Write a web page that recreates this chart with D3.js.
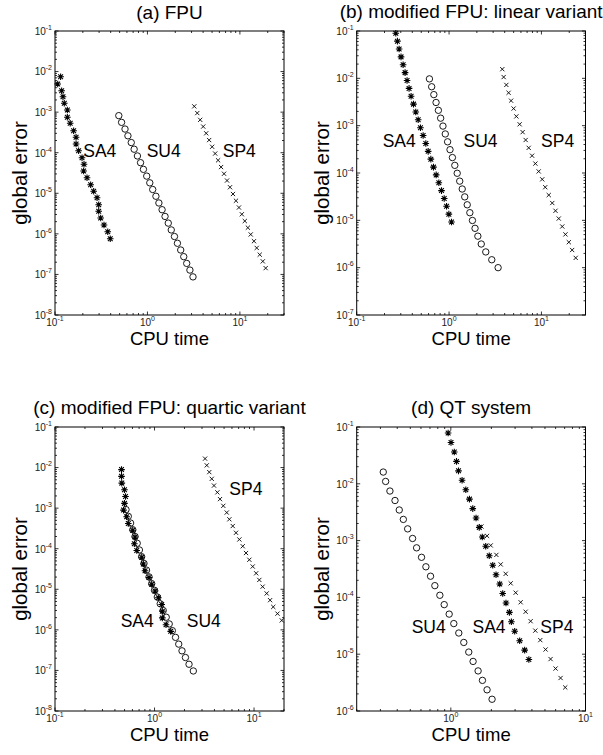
<!DOCTYPE html>
<html><head><meta charset="utf-8">
<script src="https://cdn.jsdelivr.net/npm/d3@7"></script>
<style>
body{margin:0;background:#fff}
svg{display:block}
text{font-family:"Liberation Sans",Arial,Helvetica,sans-serif;fill:#000}
</style>
</head><body>
<svg id="chart" width="603" height="755"></svg>
<script>
// ---------------- data (CPU time, global error) ----------------
// (a) FPU
const aSA4_t = [0.115,0.107,0.118,0.122,0.126,0.136,0.136,0.146,0.159,0.169,0.169,0.180,0.196,0.206,0.204,0.222,0.243,0.262,0.285,0.297,0.297,0.312,0.339,0.372,0.396];
const aSA4_e = [7.48e-3,4.94e-3,3.38e-3,2.40e-3,1.65e-3,1.13e-3,7.46e-4,5.31e-4,3.49e-4,2.40e-4,1.64e-4,1.12e-4,7.53e-5,5.18e-5,3.54e-5,2.42e-5,1.63e-5,1.12e-5,7.78e-6,5.23e-6,3.60e-6,2.46e-6,1.65e-6,1.13e-6,7.60e-7];
const aSU4_t = [0.49,0.525,0.572,0.615,0.668,0.718,0.779,0.842,0.905,0.982,1.06,1.14,1.235,1.33,1.44,1.55,1.68,1.81,1.96,2.11,2.29,2.47,2.66,2.88,3.11];
const aSU4_e = [8.2e-4,5.6e-4,3.83e-4,2.61e-4,1.78e-4,1.22e-4,8.32e-5,5.68e-5,3.89e-5,2.65e-5,1.81e-5,1.24e-5,8.45e-6,5.77e-6,3.94e-6,2.69e-6,1.84e-6,1.25e-6,8.6e-7,5.86e-7,4.0e-7,2.74e-7,1.87e-7,1.28e-7,8.7e-8];
const aSP4_t = [3.21,3.46,3.72,4.01,4.32,4.65,5.01,5.40,5.81,6.26,6.74,7.26,7.82,8.42,9.07,9.77,10.5,11.3,12.2,13.1,14.2,15.2,16.4,17.7,19.0];
const aSP4_e = [1.39e-3,9.48e-4,6.46e-4,4.41e-4,3.01e-4,2.05e-4,1.40e-4,9.54e-5,6.5e-5,4.43e-5,3.03e-5,2.06e-5,1.41e-5,9.6e-6,6.55e-6,4.46e-6,3.04e-6,2.07e-6,1.42e-6,9.67e-7,6.6e-7,4.5e-7,3.07e-7,2.1e-7,1.43e-7];
// (b) modified FPU: linear variant
const bSA4_t = [0.265,0.276,0.288,0.302,0.318,0.334,0.351,0.369,0.388,0.412,0.436,0.463,0.490,0.524,0.560,0.594,0.635,0.678,0.725,0.775,0.828,0.886,0.939,0.995,1.063];
const bSA4_e = [0.0894,0.0610,0.0416,0.0284,0.0193,0.0132,8.99e-3,6.13e-3,4.18e-3,2.85e-3,1.95e-3,1.33e-3,9.06e-4,6.18e-4,4.21e-4,2.87e-4,1.96e-4,1.33e-4,9.12e-5,6.22e-5,4.25e-5,2.90e-5,1.98e-5,1.35e-5,9.2e-6];
const bSU4_t = [0.613,0.648,0.684,0.723,0.766,0.811,0.859,0.910,0.964,1.024,1.087,1.154,1.225,1.304,1.388,1.478,1.573,1.679,1.791,1.911,2.050,2.231,2.497,2.900,3.396];
const bSU4_e = [9.74e-3,6.64e-3,4.53e-3,3.09e-3,2.11e-3,1.44e-3,9.80e-4,6.68e-4,4.56e-4,3.11e-4,2.12e-4,1.45e-4,9.87e-5,6.73e-5,4.59e-5,3.13e-5,2.13e-5,1.45e-5,9.93e-6,6.78e-6,4.63e-6,3.16e-6,2.15e-6,1.47e-6,1.00e-6];
const bSP4_t = [3.77,3.90,4.17,4.41,4.69,5.00,5.35,5.81,6.26,6.75,7.28,7.92,8.60,9.34,10.2,11.0,12.0,13.1,14.2,15.4,16.8,18.2,19.8,21.5,23.5];
const bSP4_e = [0.0156,0.01064,7.26e-3,4.95e-3,3.37e-3,2.30e-3,1.57e-3,1.07e-3,7.30e-4,4.98e-4,3.40e-4,2.32e-4,1.58e-4,1.08e-4,7.35e-5,5.01e-5,3.42e-5,2.32e-5,1.59e-5,1.09e-5,7.41e-6,5.05e-6,3.45e-6,2.36e-6,1.61e-6];
// (c) modified FPU: quartic variant
const cSA4_t = [0.466,0.466,0.469,0.499,0.511,0.499,0.488,0.525,0.545,0.604,0.637,0.627,0.663,0.744,0.772,0.803,0.881,0.937,1.012,1.092,1.181,1.198,1.198,1.305,1.455];
const cSA4_e = [8.91e-3,6.08e-3,4.14e-3,2.83e-3,1.93e-3,1.31e-3,8.96e-4,6.11e-4,4.17e-4,2.84e-4,1.94e-4,1.32e-4,9.03e-5,6.16e-5,4.20e-5,2.86e-5,1.95e-5,1.33e-5,9.09e-6,6.20e-6,4.23e-6,2.89e-6,1.97e-6,1.34e-6,9.2e-7];
const cSU4_t = [0.517,0.545,0.575,0.605,0.637,0.670,0.705,0.742,0.784,0.831,0.881,0.937,1.000,1.067,1.141,1.223,1.311,1.405,1.510,1.626,1.751,1.889,2.045,2.222,2.454];
const cSU4_e = [9.2e-4,6.28e-4,4.29e-4,2.93e-4,2.0e-4,1.36e-4,9.31e-5,6.36e-5,4.34e-5,2.96e-5,2.02e-5,1.38e-5,9.43e-6,6.44e-6,4.40e-6,3.0e-6,2.05e-6,1.40e-6,9.57e-7,6.53e-7,4.45e-7,3.04e-7,2.08e-7,1.42e-7,9.7e-8];
const cSP4_t = [3.22,3.35,3.55,3.76,3.96,4.28,4.55,4.91,5.32,5.65,6.11,6.59,7.12,7.70,8.31,8.97,9.70,10.5,11.3,12.2,13.4,14.5,15.6,17.2,19.0];
const cSP4_e = [0.0166,0.01134,7.73e-3,5.28e-3,3.60e-3,2.45e-3,1.67e-3,1.14e-3,7.78e-4,5.31e-4,3.62e-4,2.47e-4,1.69e-4,1.15e-4,7.83e-5,5.34e-5,3.64e-5,2.48e-5,1.70e-5,1.16e-5,7.9e-6,5.39e-6,3.68e-6,2.51e-6,1.71e-6];
// (d) QT system
const dSU4_t = [0.315,0.328,0.353,0.385,0.414,0.444,0.478,0.520,0.557,0.606,0.653,0.707,0.761,0.829,0.893,0.972,1.052,1.146,1.248,1.359,1.463,1.594,1.717,1.858,2.024];
const dSU4_e = [0.0161,0.0110,7.46e-3,5.08e-3,3.46e-3,2.36e-3,1.61e-3,1.09e-3,7.46e-4,5.08e-4,3.46e-4,2.36e-4,1.61e-4,1.09e-4,7.46e-5,5.08e-5,3.46e-5,2.36e-5,1.61e-5,1.09e-5,7.46e-6,5.08e-6,3.46e-6,2.36e-6,1.61e-6];
const dSA4_t = [0.955,1.003,1.061,1.102,1.140,1.212,1.292,1.375,1.455,1.539,1.626,1.712,1.816,1.929,2.047,2.166,2.307,2.428,2.568,2.722,2.817,2.980,3.245,3.533,3.796];
const dSA4_e = [0.0783,0.0534,0.0364,0.0248,0.0169,0.01155,7.88e-3,5.37e-3,3.66e-3,2.50e-3,1.71e-3,1.16e-3,7.93e-4,5.41e-4,3.69e-4,2.51e-4,1.72e-4,1.17e-4,7.98e-5,5.45e-5,3.72e-5,2.54e-5,1.73e-5,1.18e-5,8.05e-6];
const dSP4_t = [1.687,1.858,1.978,2.179,2.346,2.555,2.783,3.030,3.300,3.594,3.914,4.239,4.616,5.054,5.504,5.995,6.529,7.071];
const dSP4_e = [1.77e-3,1.21e-3,8.22e-4,5.60e-4,3.81e-4,2.60e-4,1.77e-4,1.21e-4,8.21e-5,5.59e-5,3.81e-5,2.60e-5,1.77e-5,1.21e-5,8.21e-6,5.59e-6,3.81e-6,2.60e-6];

// tick label exponents
const xExpABC = [-1, 0, 1];
const xExpD = [0, 1];
const yExpA = [-1,-2,-3,-4,-5,-6,-7,-8];
const yExpB = [-1,-2,-3,-4,-5,-6,-7];
const yExpC = [-1,-2,-3,-4,-5,-6,-7,-8];
const yExpD = [-1,-2,-3,-4,-5,-6];

const titles = ["(a) FPU","(b) modified FPU: linear variant","(c) modified FPU: quartic variant","(d) QT system"];
const xTitle = "CPU time", yTitle = "global error";

// ---------------- layout ----------------
const panels = [
 {title:titles[0], L:55, T:31, R:284, B:315, xd:[0.1,30], yd:[1e-8,1e-1], xe:xExpABC, ye:yExpA, titleY:18.5,
  series:[["star",aSA4_t,aSA4_e],["circ",aSU4_t,aSU4_e],["x",aSP4_t,aSP4_e]],
  labels:[["SA4",0.202,8.0e-5],["SU4",0.98,8.0e-5],["SP4",6.52,8.0e-5]]},
 {title:titles[1], L:356.7, T:31, R:585.5, B:315, xd:[0.1,30], yd:[1e-7,1e-1], xe:xExpABC, ye:yExpB, titleY:18,
  series:[["star",bSA4_t,bSA4_e],["circ",bSU4_t,bSU4_e],["x",bSP4_t,bSP4_e]],
  labels:[["SA4",0.191,3.6e-4],["SU4",1.435,3.6e-4],["SP4",9.92,3.6e-4]]},
 {title:titles[2], L:55, T:427, R:284, B:711, xd:[0.1,20], yd:[1e-8,1e-1], xe:xExpABC, ye:yExpC, titleY:414,
  series:[["circ",cSU4_t,cSU4_e],["star",cSA4_t,cSA4_e],["x",cSP4_t,cSP4_e]],
  labels:[["SP4",5.65,2.11e-3],["SA4",0.457,1.16e-6],["SU4",2.107,1.16e-6]]},
 {title:titles[3], L:356.7, T:427, R:585.5, B:711, xd:[0.2,10], yd:[1e-6,1e-1], xe:xExpD, ye:yExpD, titleY:414,
  series:[["circ",dSU4_t,dSU4_e],["star",dSA4_t,dSA4_e],["x",dSP4_t,dSP4_e]],
  labels:[["SU4",0.512,2.33e-5],["SA4",1.448,2.33e-5],["SP4",4.62,2.33e-5]]}
];

const svg = d3.select("#chart");

function starPath(s){
  const d = s*0.72;
  return `M${-s},0H${s}M0,${-s}V${s}M${-d},${-d}L${d},${d}M${-d},${d}L${d},${-d}`;
}
function xPath(s){ return `M${-s},${-s}L${s},${s}M${-s},${s}L${s},${-s}`; }

panels.forEach(p => {
  const x = d3.scaleLog().domain(p.xd).range([p.L, p.R]);
  const y = d3.scaleLog().domain(p.yd).range([p.B, p.T]);
  const g = svg.append("g");

  // ticks (inward, all four sides)
  const minorX = [], majorX = [];
  for (let e = Math.floor(Math.log10(p.xd[0])); e <= Math.ceil(Math.log10(p.xd[1])); e++) {
    for (let k = 1; k <= 9; k++) {
      const v = k * Math.pow(10, e);
      if (v < p.xd[0]*0.9999 || v > p.xd[1]*1.0001) continue;
      (k === 1 ? majorX : minorX).push(v);
    }
  }
  const minorY = [], majorY = [];
  for (let e = Math.floor(Math.log10(p.yd[0])); e <= Math.ceil(Math.log10(p.yd[1])); e++) {
    for (let k = 1; k <= 9; k++) {
      const v = k * Math.pow(10, e);
      if (v < p.yd[0]*0.9999 || v > p.yd[1]*1.0001) continue;
      (k === 1 ? majorY : minorY).push(v);
    }
  }
  const tk = g.append("g").attr("stroke","#000").attr("stroke-width",0.8);
  const drawX = (vals, len) => vals.forEach(v => {
    const xx = x(v);
    tk.append("line").attr("x1",xx).attr("x2",xx).attr("y1",p.B).attr("y2",p.B-len);
    tk.append("line").attr("x1",xx).attr("x2",xx).attr("y1",p.T).attr("y2",p.T+len);
  });
  const drawY = (vals, len) => vals.forEach(v => {
    const yy = y(v);
    tk.append("line").attr("y1",yy).attr("y2",yy).attr("x1",p.L).attr("x2",p.L+len);
    tk.append("line").attr("y1",yy).attr("y2",yy).attr("x1",p.R).attr("x2",p.R-len);
  });
  drawX(majorX, 3.5); drawX(minorX, 2);
  drawY(majorY, 3.5); drawY(minorY, 2);

  // frame
  g.append("rect").attr("x",p.L).attr("y",p.T).attr("width",p.R-p.L).attr("height",p.B-p.T)
    .attr("fill","none").attr("stroke","#000").attr("stroke-width",1);

  // tick labels
  p.ye.forEach(e => {
    const t = g.append("text").attr("x",p.L-3).attr("y",y(Math.pow(10,e))+3.8)
      .attr("text-anchor","end").attr("font-size",10).style("fill","#222");
    t.append("tspan").text("10");
    t.append("tspan").attr("dy",-5).attr("font-size",7).text(String(e));
  });
  p.xe.forEach(e => {
    const t = g.append("text").attr("x",x(Math.pow(10,e))).attr("y",p.B+11)
      .attr("text-anchor","middle").attr("font-size",10).style("fill","#222");
    t.append("tspan").text("10");
    t.append("tspan").attr("dy",-5).attr("font-size",7).text(String(e));
  });

  // series
  p.series.forEach(([m, ts, es]) => {
    const pts = ts.map((t,i) => [x(t), y(es[i])]);
    const sg = g.append("g");
    if (m === "circ") {
      sg.selectAll("circle").data(pts).enter().append("circle")
        .attr("cx",d=>d[0]).attr("cy",d=>d[1]).attr("r",3.2)
        .attr("fill","none").attr("stroke","#000").attr("stroke-width",0.9);
    } else {
      sg.selectAll("path").data(pts).enter().append("path")
        .attr("transform",d=>`translate(${d[0]},${d[1]})`)
        .attr("d", m === "star" ? starPath(3.3) : xPath(2.1))
        .attr("fill","none").attr("stroke","#000").attr("stroke-width", m === "star" ? 1.1 : 0.9);
    }
  });

  // series labels
  p.labels.forEach(([s, lx, ly]) => {
    g.append("text").attr("x",x(lx)).attr("y",y(ly)).attr("font-size",17.5).text(s);
  });

  // titles and axis labels
  const cx = (p.L+p.R)/2, cy = (p.T+p.B)/2;
  g.append("text").attr("x",cx).attr("y",p.titleY).attr("text-anchor","middle").attr("font-size",19).text(p.title);
  g.append("text").attr("x",cx).attr("y",p.B+30).attr("text-anchor","middle").attr("font-size",18.5).text(xTitle);
  g.append("text").attr("transform",`translate(${p.L-28},${cy}) rotate(-90)`)
    .attr("text-anchor","middle").attr("font-size",20.5).text(yTitle);
});
</script>
</body></html>
